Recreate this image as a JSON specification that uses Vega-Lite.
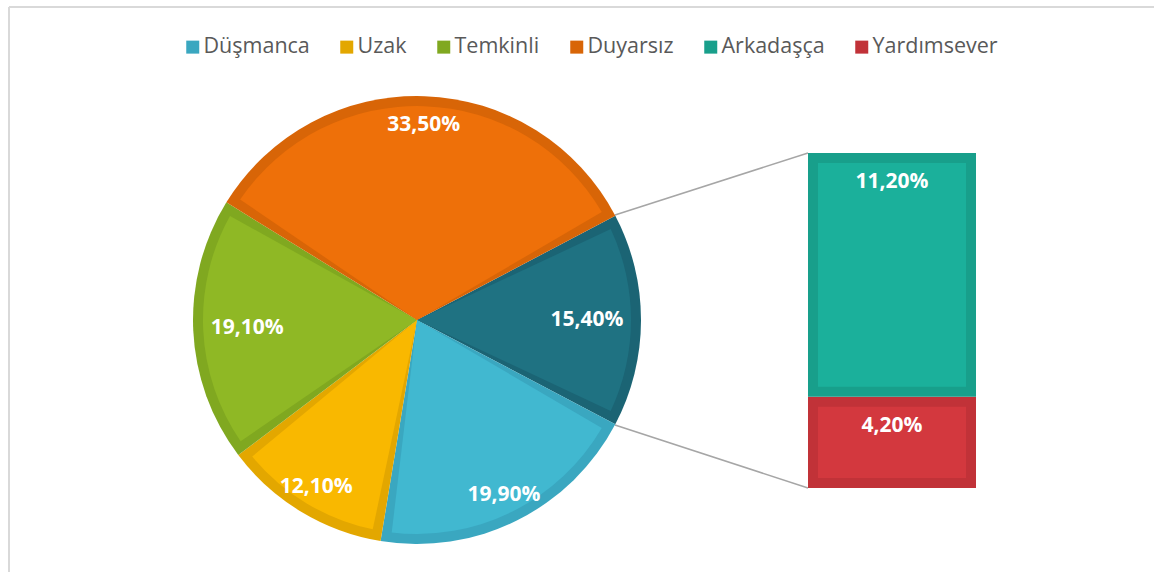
{
  "$schema": "https://vega.github.io/schema/vega-lite/v6.json",
  "width": 1145,
  "height": 565,
  "padding": {"left": 9, "top": 7, "right": 0, "bottom": 0},
  "autosize": {"type": "none"},
  "background": "white",
  "config": {
    "view": {"stroke": null},
    "legend": {
      "labelFont": "Open Sans",
      "labelFontSize": 21.5,
      "labelColor": "#595959",
      "symbolType": "square",
      "symbolSize": 169,
      "symbolStrokeWidth": 0,
      "columnPadding": 26,
      "labelOffset": 0
    }
  },
  "datasets": {
    "pie": [
      {"cat": "Other", "value": 15.4, "ord": 0, "label": "15,40%"},
      {"cat": "Düşmanca", "value": 19.9, "ord": 1, "label": "19,90%"},
      {"cat": "Uzak", "value": 12.1, "ord": 2, "label": "12,10%"},
      {"cat": "Temkinli", "value": 19.1, "ord": 3, "label": "19,10%"},
      {"cat": "Duyarsız", "value": 33.5, "ord": 4, "label": "33,50%"}
    ],
    "bar": [
      {"cat": "Yardımsever", "value": 4.2, "ord": 0, "label": "4,20%"},
      {"cat": "Arkadaşça", "value": 11.2, "ord": 1, "label": "11,20%"}
    ]
  },
  "layer": [
    {
      "data": {"values": [{}]},
      "mark": {"type": "rule", "stroke": "#d9d9d9", "strokeWidth": 2},
      "encoding": {"x": {"value": 0}, "y": {"value": 0}, "y2": {"value": 565}}
    },
    {
      "data": {"values": [{}]},
      "mark": {"type": "rule", "stroke": "#d9d9d9", "strokeWidth": 2},
      "encoding": {"x": {"value": 0}, "x2": {"value": 1145}, "y": {"value": 0}}
    },
    {
      "data": {"values": [{}]},
      "mark": {"type": "rule", "stroke": "#a6a6a6", "strokeWidth": 1.5},
      "encoding": {"x": {"value": 606}, "y": {"value": 208}, "x2": {"value": 799}, "y2": {"value": 146}}
    },
    {
      "data": {"values": [{}]},
      "mark": {"type": "rule", "stroke": "#a6a6a6", "strokeWidth": 1.5},
      "encoding": {"x": {"value": 606}, "y": {"value": 418}, "x2": {"value": 799}, "y2": {"value": 481}}
    },
    {
      "data": {"name": "pie"},
      "mark": {"type": "arc", "radius": 224},
      "encoding": {
        "x": {"value": 408},
        "y": {"value": 313},
        "theta": {"field": "value", "type": "quantitative", "stack": true, "scale": {"range": [1.0870, 7.3702]}},
        "order": {"field": "ord", "type": "quantitative"},
        "color": {
          "field": "cat",
          "type": "nominal",
          "scale": {
            "domain": ["Düşmanca", "Uzak", "Temkinli", "Duyarsız", "Arkadaşça", "Yardımsever", "Other"],
            "range": ["#3aa7c0", "#e3a700", "#80a820", "#d86507", "#189f8b", "#c13238", "#1b6474"]
          },
          "legend": {
            "title": null,
            "orient": "none",
            "direction": "horizontal",
            "legendX": 173,
            "legendY": 29,
            "values": ["Düşmanca", "Uzak", "Temkinli", "Duyarsız", "Arkadaşça", "Yardımsever"]
          }
        }
      }
    },
    {
      "data": {"name": "pie"},
      "mark": {"type": "arc", "radius": 214, "padAngle": 0.09},
      "encoding": {
        "x": {"value": 408},
        "y": {"value": 313},
        "theta": {"field": "value", "type": "quantitative", "stack": true},
        "order": {"field": "ord", "type": "quantitative"},
        "fill": {
          "field": "cat",
          "type": "nominal",
          "scale": {
            "domain": ["Düşmanca", "Uzak", "Temkinli", "Duyarsız", "Arkadaşça", "Yardımsever", "Other"],
            "range": ["#41b8d0", "#f9b800", "#8fb825", "#ee7009", "#1bb09b", "#d3383e", "#1f7282"]
          },
          "legend": null
        }
      }
    },
    {
      "data": {"name": "pie"},
      "mark": {"type": "text", "radius": 195, "font": "Open Sans", "fontWeight": "bold", "fontSize": 21, "fill": "white"},
      "encoding": {
        "x": {"value": 408},
        "y": {"value": 313},
        "theta": {"field": "value", "type": "quantitative", "stack": true},
        "order": {"field": "ord", "type": "quantitative"},
        "text": {"condition": {"test": "datum.cat !== 'Other' && datum.cat !== 'Temkinli'", "field": "label"}, "value": ""}
      }
    },
    {
      "data": {"name": "pie"},
      "mark": {"type": "text", "radius": 170, "font": "Open Sans", "fontWeight": "bold", "fontSize": 21, "fill": "white"},
      "encoding": {
        "x": {"value": 408},
        "y": {"value": 313},
        "theta": {"field": "value", "type": "quantitative", "stack": true},
        "order": {"field": "ord", "type": "quantitative"},
        "text": {"condition": {"test": "datum.cat === 'Other' || datum.cat === 'Temkinli'", "field": "label"}, "value": ""}
      }
    },
    {
      "data": {"name": "bar"},
      "transform": [{"stack": "value", "groupby": [], "sort": [{"field": "ord"}], "as": ["v0", "v1"]}],
      "mark": {"type": "rect"},
      "encoding": {
        "x": {"value": 799},
        "x2": {"value": 967},
        "y": {"field": "v1", "type": "quantitative", "scale": {"domain": [0, 15.4], "range": [481, 146], "nice": false, "zero": false}, "axis": null},
        "y2": {"field": "v0"},
        "color": {"field": "cat", "type": "nominal"}
      }
    },
    {
      "data": {"name": "bar"},
      "transform": [{"stack": "value", "groupby": [], "sort": [{"field": "ord"}], "as": ["v0", "v1"]}],
      "mark": {"type": "rect", "yOffset": 10, "y2Offset": -10},
      "encoding": {
        "x": {"value": 809},
        "x2": {"value": 957},
        "y": {"field": "v1", "type": "quantitative"},
        "y2": {"field": "v0"},
        "fill": {"field": "cat", "type": "nominal"}
      }
    },
    {
      "data": {"name": "bar"},
      "transform": [{"stack": "value", "groupby": [], "sort": [{"field": "ord"}], "as": ["v0", "v1"]}],
      "mark": {"type": "text", "font": "Open Sans", "fontWeight": "bold", "fontSize": 21, "fill": "white", "dy": 29, "baseline": "middle"},
      "encoding": {
        "x": {"value": 883},
        "y": {"field": "v1", "type": "quantitative"},
        "text": {"field": "label", "type": "nominal"}
      }
    }
  ]
}
